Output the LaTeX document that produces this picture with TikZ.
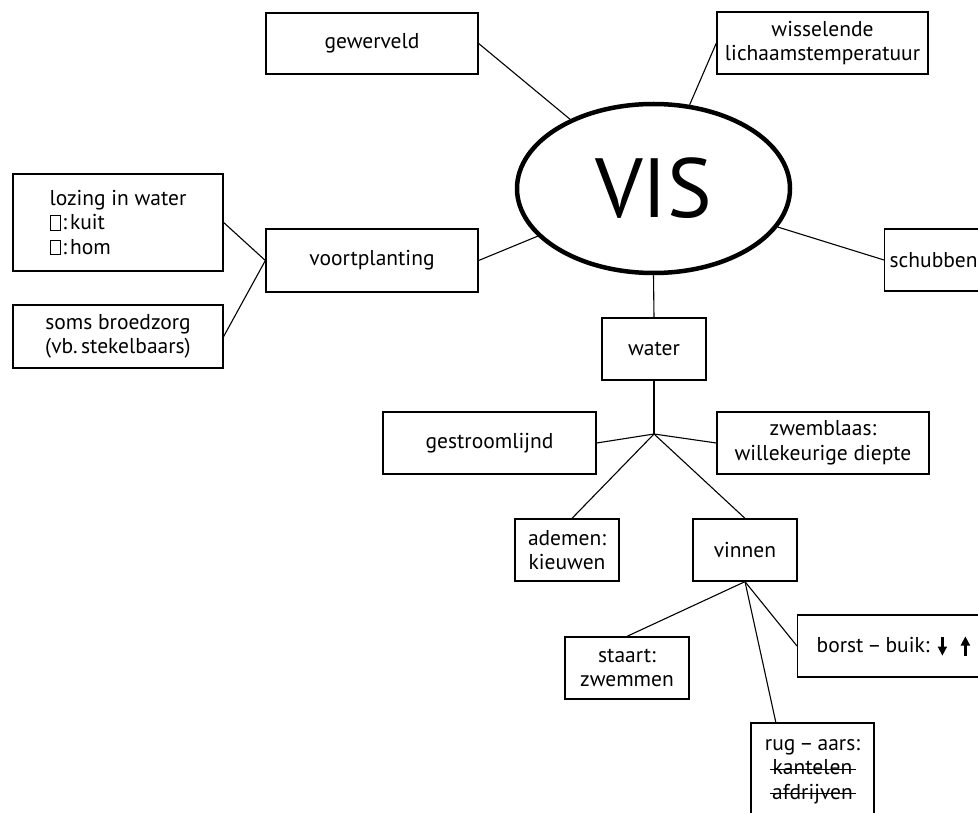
\documentclass[tikz,border=0pt]{standalone}
\usepackage{fontspec}
\setmainfont{PT Sans}
\usetikzlibrary{shapes.geometric,arrows.meta,calc}
\newdimen\strkw
\newcommand\sq{\tikz[baseline=0pt]\draw[line width=0.8pt] (0pt,-0.5pt) rectangle (10pt,14pt);}
\newcommand\strk[1]{\leavevmode\setbox0\hbox{#1}\strkw=\wd0\advance\strkw by 6pt\rlap{\kern-3pt\tikz[baseline=0pt]\draw[line width=1pt](0pt,5.5pt)--(\the\strkw,5.5pt);}\box0}
\newcommand\dnup{\tikz[baseline=0pt]{%
  \fill (-1.4pt,16pt) rectangle (1.4pt,5pt);
  \fill (-4.8pt,6pt) -- (4.8pt,6pt) -- (0pt,-3pt) -- cycle;
  \fill (21.6pt,-3pt) rectangle (24.4pt,8pt);
  \fill (18.2pt,7pt) -- (27.8pt,7pt) -- (23pt,16pt) -- cycle;}}
\tikzset{
  box/.style={draw, line width=1.3pt, rectangle, inner sep=0pt, align=center,
    font=\fontsize{21.5}{24.5}\selectfont},
  link/.style={line width=1.1pt},
}
\begin{document}
\begin{tikzpicture}[x=1pt,y=-1pt]
\useasboundingbox (0,0) rectangle (978,813);
% central ellipse
\node[ellipse, draw, line width=4.5pt, minimum width=273pt, minimum height=169pt, inner sep=0pt,
  font=\fontsize{84}{90}\selectfont] (vis) at (653.5,188.5) {VIS\hspace{14pt}};
% top and side boxes
\node[box, minimum width=212pt, minimum height=61pt] (gew) at (372,43.5) {gewerveld};
\node[box, minimum width=211pt, minimum height=62pt] (wis) at (822.5,43) {wisselende\\lichaamstemperatuur};
\node[box, minimum width=212pt, minimum height=63pt] (voort) at (372,260.5) {voortplanting};
\node[box, minimum width=210pt, minimum height=97pt, align=left] (loz) at (118,222.5)
  {lozing in water\\\sq\kern2pt:\kern3pt kuit\\\sq\kern2pt:\kern3pt hom};
\node[box, minimum width=210pt, minimum height=63pt] (broed) at (118,336.5) {soms broedzorg\\(vb.\,stekelbaars)};
\node[box, minimum height=62pt, anchor=west, inner xsep=5pt] (schub) at (884,260) {schubben\hspace{30pt}};
% water branch
\node[box, minimum width=104pt, minimum height=62pt] (water) at (654,349) {water};
\coordinate (j) at (654,434);
\node[box, minimum width=213pt, minimum height=62pt] (gestr) at (489.5,443) {gestroomlijnd};
\node[box, minimum width=212pt, minimum height=62pt] (zwem) at (823,443) {zwemblaas:\\willekeurige diepte};
\node[box, minimum width=104pt, minimum height=62pt] (adem) at (567,550) {ademen:\\kieuwen};
\node[box, minimum width=104pt, minimum height=62pt] (vinn) at (745,550) {vinnen};
% fins
\node[box, minimum width=124pt, minimum height=62pt] (staart) at (627,668) {staart:\\zwemmen};
\node[box, minimum height=62pt, anchor=west, inner xsep=19pt] (borst) at (797,646) {borst\kern4pt--\kern4pt buik:\hspace{8pt}\dnup\hspace{30pt}};
\node[box, minimum width=123pt, minimum height=97pt] (rug) at (812.5,771.5) {rug\kern4pt--\kern4pt aars:\\\strk{kantelen}\\\strk{afdrijven}};
\coordinate (rugtop) at ($(rug.north west)!0.205!(rug.north east)$);
% connectors
\draw[link] (gew.east) -- (vis);
\draw[link] (wis.west) -- (vis);
\draw[link] (voort.east) -- (vis);
\draw[link] (schub.west) -- (vis);
\draw[link] (vis.south) -- (water.north);
\draw[link] (voort.west) -- (loz.east);
\draw[link] (voort.west) -- (broed.east);
\draw[link] (water.south) -- (j);
\draw[link] (j) -- (gestr.east);
\draw[link] (j) -- (zwem.west);
\draw[link] (j) -- ([xshift=5pt]adem.north);
\draw[link] (j) -- (vinn.north);
\draw[link] (vinn.south) -- (staart.north);
\draw[link] (vinn.south) -- (borst.west);
\draw[link] (vinn.south) -- (rugtop);
\end{tikzpicture}
\end{document}
